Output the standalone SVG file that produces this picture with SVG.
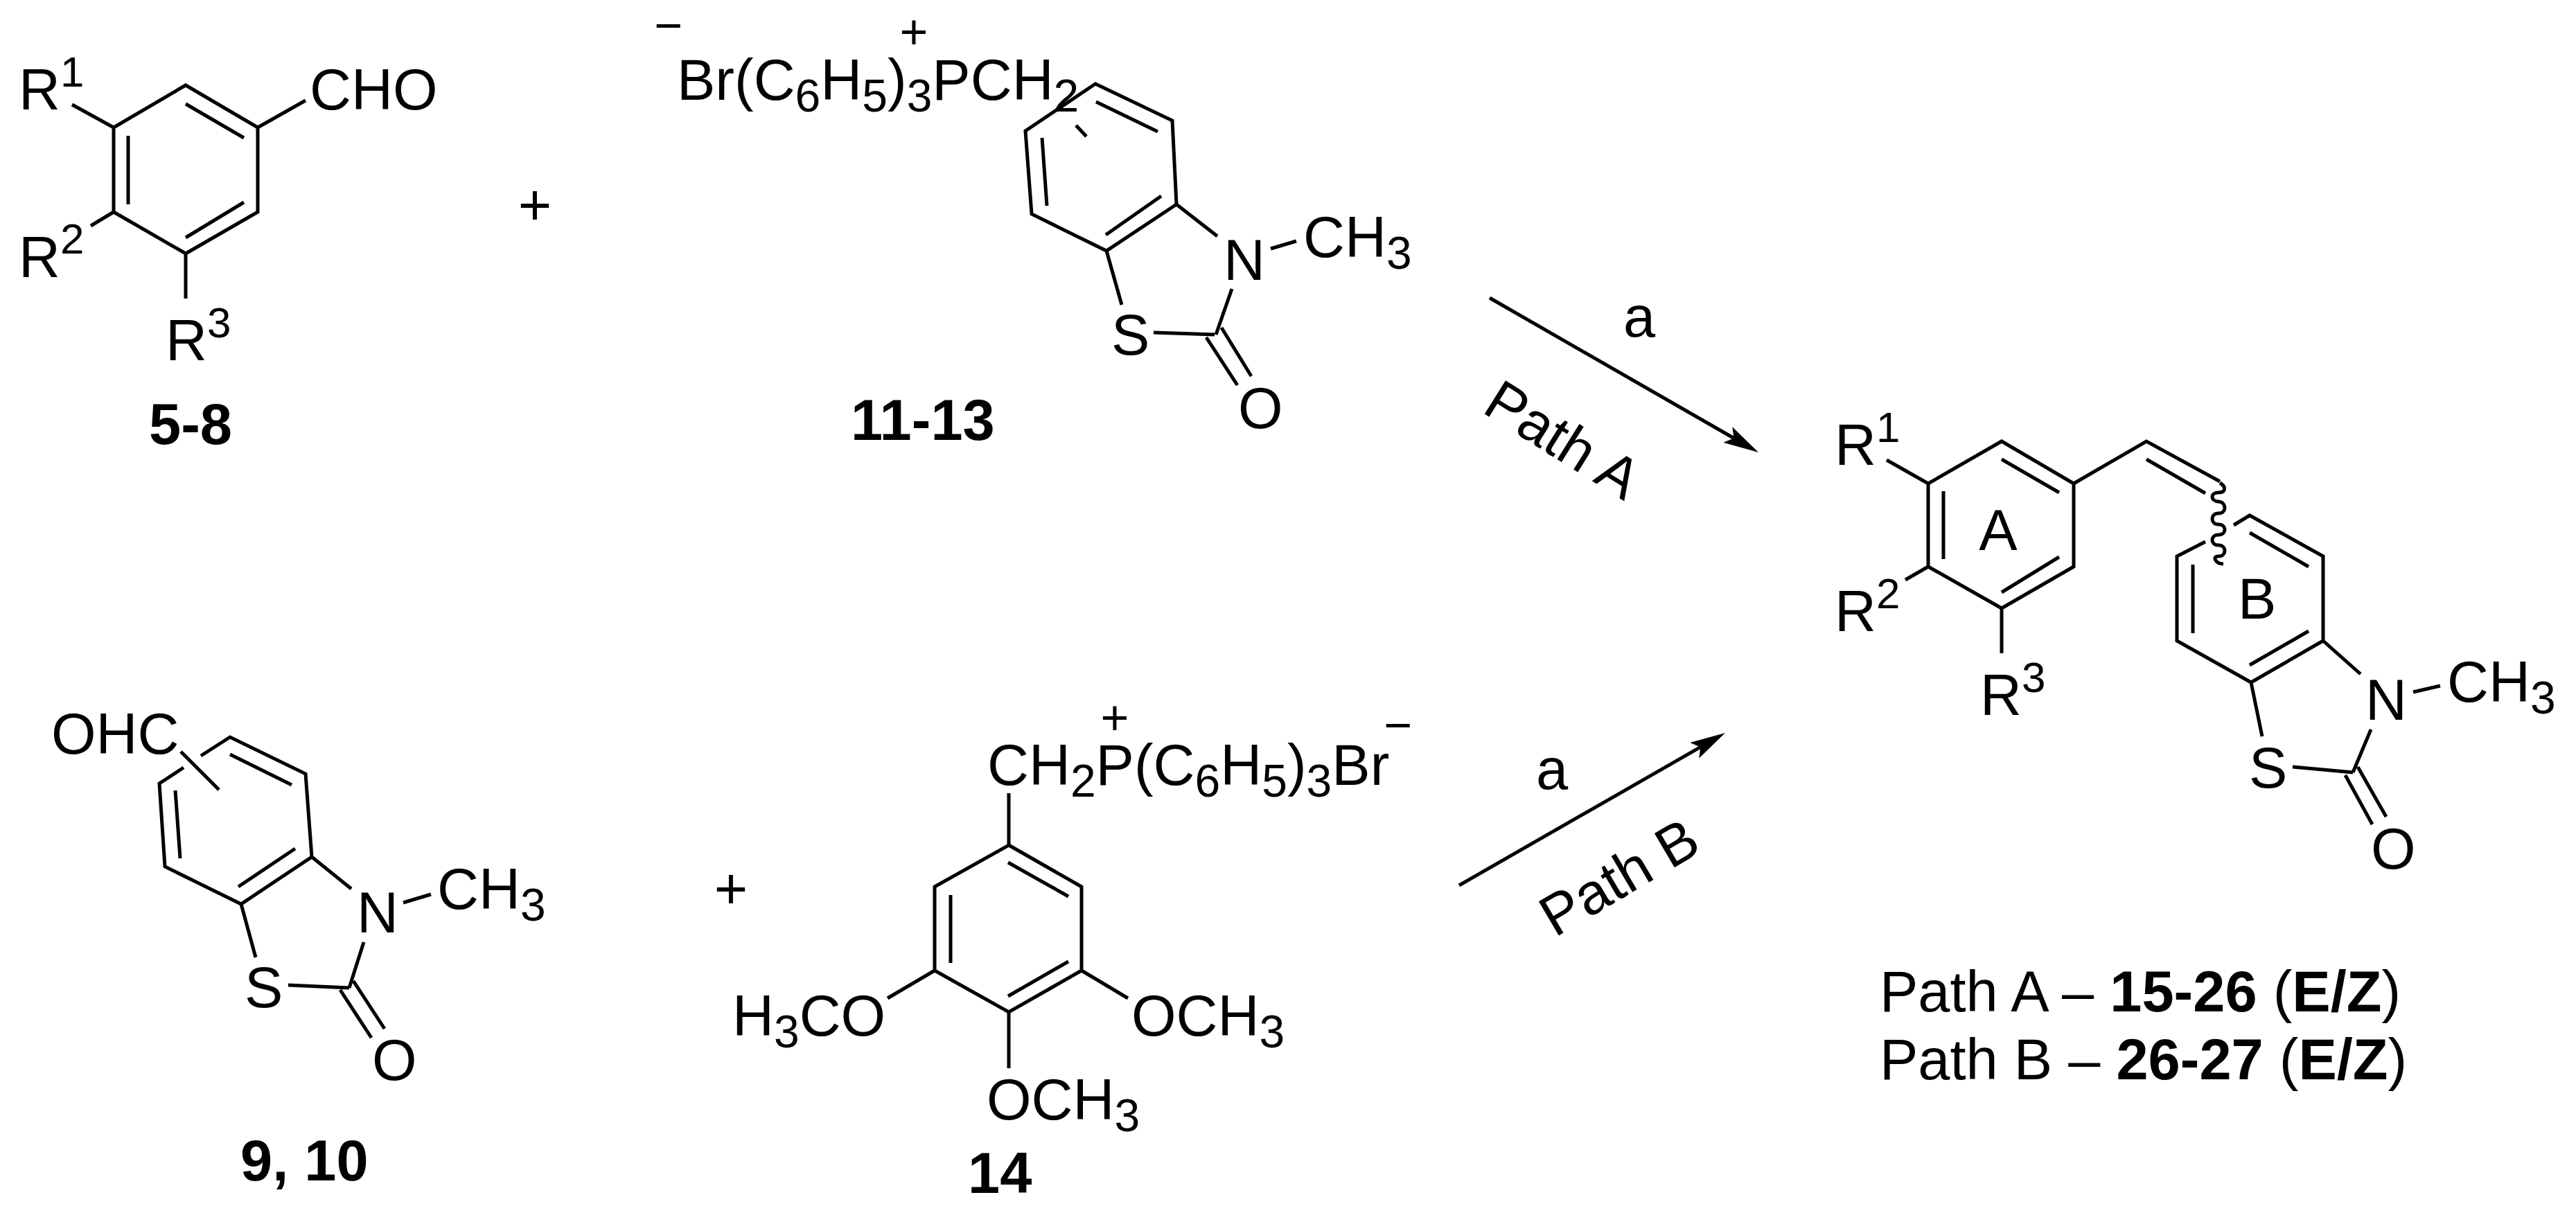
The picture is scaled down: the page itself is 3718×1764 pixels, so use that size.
<svg xmlns="http://www.w3.org/2000/svg" width="3718" height="1764" viewBox="0 0 3718 1764">
<style>
text{font-family:"Liberation Sans",Arial,sans-serif;font-size:83px;fill:#000}
.b{font-size:66px}
.p{font-size:62px}
.c{font-size:70px;text-anchor:middle}
.m{font-size:83px;text-anchor:middle}
.k{font-weight:bold}
.bond{fill:none;stroke:#000;stroke-width:5;stroke-linejoin:miter;stroke-linecap:butt}
.arrow{fill:none;stroke:#000;stroke-width:5}
</style>
<defs>
<marker id="head" markerUnits="userSpaceOnUse" markerWidth="51" markerHeight="26" refX="10" refY="13" orient="auto" viewBox="0 0 51 26"><path d="M0,0L51,13L0,26L10,13Z" fill="#000"/></marker>
</defs>
<rect width="3718" height="1764" fill="#fff"/>
<g id="compound-5-8">
<path class="bond" d="M268,123L372,184V306L268,366L164,306V184ZM268,150L352,199M185,196V295M268,343L352,292M104,151L164,184M131,326L164,306M268,366V431M372,184L441,145"/>
<text x="27" y="158">R<tspan class="p" dy="-33">1</tspan></text>
<text x="27" y="400">R<tspan class="p" dy="-34">2</tspan></text>
<text x="239" y="520">R<tspan class="p" dy="-33">3</tspan></text>
<text x="447" y="158">CHO</text>
<text class="k" x="215" y="641">5-8</text>
</g>
<text id="plus-1" class="m" x="772" y="324">+</text>
<g id="compound-11-13">
<text class="c" x="965" y="61">−</text>
<text class="c" x="1319" y="70">+</text>
<text x="977" y="144">Br(C<tspan class="b" dy="17">6</tspan><tspan dy="-17">H</tspan><tspan class="b" dy="17">5</tspan><tspan dy="-17">)</tspan><tspan class="b" dy="17">3</tspan><tspan dy="-17">PCH</tspan><tspan class="b" dy="17">2</tspan></text>
<path class="bond" d="M1581,121L1692,174L1698,295L1597,362L1489,309L1480,189ZM1582,147L1671,190M1504,199L1511,297M1596,339L1676,283M1553,181L1568,197M1698,295L1757,341M1834,359L1871,348M1597,362L1619,440M1665,480L1753,483M1778,417L1755,483M1741,487L1786,556M1763,473L1806,543"/>
<text x="1766" y="404">N</text>
<text x="1881" y="371">CH<tspan class="b" dy="17">3</tspan></text>
<text x="1604" y="512">S</text>
<text x="1787" y="618">O</text>
<text class="k" x="1228" y="635">11-13</text>
</g>
<g id="compound-9-10">
<text x="74" y="1088">OHC</text>
<path class="bond" d="M265,1108L230,1131L238,1251L348,1305L450,1237L441,1117L332,1064L290,1091M332,1089L421,1133M253,1141L260,1239M344,1280L426,1225M261,1085L316,1140M450,1237L507,1283M582,1303L622,1291M348,1305L369,1382M416,1422L504,1426M525,1360L504,1426M491,1429L536,1498M510,1416L555,1485"/>
<text x="515" y="1346">N</text>
<text x="631" y="1312">CH<tspan class="b" dy="17">3</tspan></text>
<text x="353" y="1454">S</text>
<text x="537" y="1559">O</text>
<text class="k" x="347" y="1704">9, 10</text>
</g>
<text id="plus-2" class="m" x="1055" y="1311">+</text>
<g id="compound-14">
<text class="c" x="1609" y="1060">+</text>
<text class="c" x="2018" y="1071">−</text>
<text x="1425" y="1133">CH<tspan class="b" dy="17">2</tspan><tspan dy="-17">P(C</tspan><tspan class="b" dy="17">6</tspan><tspan dy="-17">H</tspan><tspan class="b" dy="17">5</tspan><tspan dy="-17">)</tspan><tspan class="b" dy="17">3</tspan><tspan dy="-17">Br</tspan></text>
<path class="bond" d="M1456,1220L1561,1280V1401L1456,1461L1349,1401V1280ZM1455,1245L1542,1294M1372,1292V1390M1455,1438L1542,1388M1456,1145V1220M1349,1401L1281,1441M1561,1401L1628,1441M1456,1461V1542"/>
<text x="1057" y="1495">H<tspan class="b" dy="17">3</tspan><tspan dy="-17">CO</tspan></text>
<text x="1633" y="1495">OCH<tspan class="b" dy="17">3</tspan></text>
<text x="1424" y="1616">OCH<tspan class="b" dy="17">3</tspan></text>
<text class="k" x="1397" y="1722">14</text>
</g>
<g id="connectors">
<path class="arrow" d="M2150,430L2502.5,632.5" marker-end="url(#head)"/>
<path class="arrow" d="M2106,1278L2454.4,1078.4" marker-end="url(#head)"/>
</g>
<g id="arrow-labels">
<text x="2343" y="486">a</text>
<text x="2217" y="1139">a</text>
<text transform="translate(2137,594) rotate(32)">Path A</text>
<text transform="translate(2244,1354) rotate(-30.5)">Path B</text>
</g>
<g id="product">
<path class="bond" d="M2889,637L2993,698V818L2889,878L2783,818V698ZM2889,663L2972,711M2805,709V807M2889,855L2972,804M2723,664L2783,698M2750,837L2783,818M2889,878V943M2993,698L3098,637L3204,695M3098,663L3183,712"/>
<path class="bond" d="M3204,697C3214,703 3212,711 3202,711C3190,711 3190,723 3202,724C3214,725 3214,741 3202,741C3190,741 3190,757 3202,757C3214,757 3214,772 3202,772C3190,772 3190,787 3202,787C3214,787 3214,803 3202,803C3192,803 3198,814 3209,814"/>
<path class="bond" d="M3183,782L3142,803V925L3249,985L3353,925V803L3247,744L3224,758M3247,769L3332,818M3165,815V914M3247,960L3332,911M3353,925L3407,973M3483,999L3522,990M3249,985L3265,1063M3309,1107L3396,1115M3422,1053L3396,1115M3385,1119L3424,1190M3403,1107L3444,1179"/>
<text x="2648" y="671">R<tspan class="p" dy="-33">1</tspan></text>
<text x="2648" y="911">R<tspan class="p" dy="-33">2</tspan></text>
<text x="2858" y="1032">R<tspan class="p" dy="-33">3</tspan></text>
<text class="m" x="2884" y="794">A</text>
<text x="3230" y="893">B</text>
<text x="3414" y="1039">N</text>
<text x="3532" y="1013">CH<tspan class="b" dy="17">3</tspan></text>
<text x="3246" y="1137">S</text>
<text x="3422" y="1254">O</text>
</g>
<g id="product-labels">
<text x="2713" y="1460">Path A – <tspan class="k">15-26</tspan> (<tspan class="k">E/Z</tspan>)</text>
<text x="2713" y="1558">Path B – <tspan class="k">26-27</tspan> (<tspan class="k">E/Z</tspan>)</text>
</g>
</svg>
